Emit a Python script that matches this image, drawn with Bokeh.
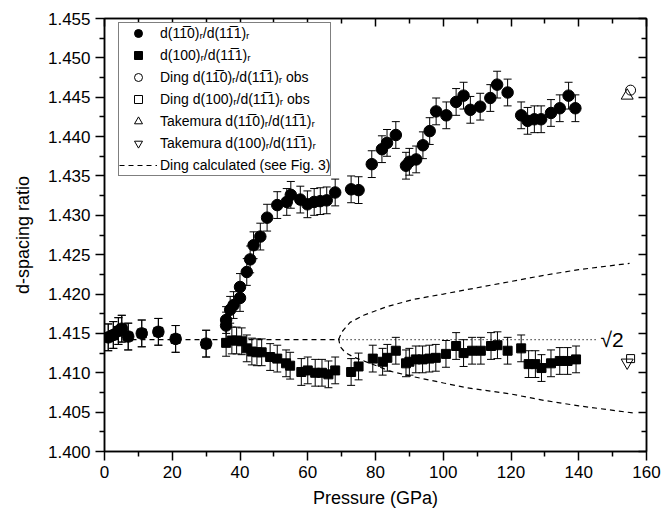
from bokeh.plotting import figure
from bokeh.models import (ColumnDataSource, Whisker, TeeHead, LinearAxis, FixedTicker,
                          Legend, LegendItem, Label, Range1d, CustomJSTickFormatter)
from bokeh.embed import file_html
from bokeh.resources import INLINE

FONT = "Liberation Sans"
SQRT2 = 1.41421
ERR = 0.0017

# ---------------- data ----------------
# low-pressure points (both ratios coincide)
low_p = [1.1, 2.6, 4.1, 5.1, 7.0, 11.0, 15.9, 21.0, 30.0]
low_v = [1.4145, 1.4148, 1.4153, 1.4156, 1.4146, 1.4150, 1.4152, 1.4143, 1.4137]

# d(1-10)r/d(1-11)r  (filled circles)
circ_p = [35.9, 35.9, 37.1, 38.1, 40.0, 40.0, 42.0, 43.0, 44.0, 46.0, 48.0, 51.0, 53.8, 55.0,
          57.8, 59.9, 61.9, 63.7, 65.6, 68.1, 72.8, 75.0, 78.9, 81.9, 83.4, 86.0, 89.0, 90.0,
          92.0, 94.0, 96.0, 97.9, 100.9, 103.8, 106.0, 108.0, 110.9, 113.9, 115.9, 119.0,
          123.0, 124.9, 126.9, 128.9, 131.8, 134.4, 137.0, 139.0]
circ_v = [1.4160, 1.4167, 1.4180, 1.4186, 1.4195, 1.4209, 1.4228, 1.4244, 1.4262, 1.4273,
          1.4297, 1.4313, 1.4317, 1.4326, 1.4320, 1.4314, 1.4317, 1.4318, 1.4319, 1.4329,
          1.4333, 1.4332, 1.4365, 1.4384, 1.4392, 1.4402, 1.4363, 1.4368, 1.4371, 1.4389,
          1.4407, 1.4432, 1.4427, 1.4444, 1.4452, 1.4434, 1.4438, 1.4449, 1.4466, 1.4456,
          1.4427, 1.4420, 1.4422, 1.4422, 1.4430, 1.4436, 1.4452, 1.4436]

# d(100)r/d(1-11)r  (filled squares)
sq_p = [35.9, 37.6, 39.0, 40.5, 42.0, 43.5, 45.0, 46.4, 48.9, 51.0, 53.6, 54.8, 58.1, 60.0,
        62.2, 64.2, 66.1, 68.1, 72.8, 75.0, 79.2, 82.1, 83.5, 86.0, 89.0, 90.0, 91.9, 93.9,
        95.9, 97.8, 100.8, 103.8, 106.0, 108.5, 111.1, 114.1, 116.0, 119.0, 123.0, 125.2,
        127.2, 129.0, 131.8, 134.4, 136.7, 139.2]
sq_v = [1.4138, 1.4141, 1.4141, 1.4140, 1.4131, 1.4127, 1.4126, 1.4126, 1.4120, 1.4118,
        1.4112, 1.4109, 1.4101, 1.4103, 1.4100, 1.4100, 1.4098, 1.4103, 1.4101, 1.4108,
        1.4118, 1.4114, 1.4119, 1.4128, 1.4112, 1.4114, 1.4117, 1.4117, 1.4118, 1.4119,
        1.4124, 1.4134, 1.4125, 1.4128, 1.4128, 1.4134, 1.4135, 1.4128, 1.4131, 1.4111,
        1.4111, 1.4106, 1.4112, 1.4115, 1.4115, 1.4117]

# Ding observed / Takemura (open symbols)
ding_c_p, ding_c_v = [155.3], [1.4459]
ding_s_p, ding_s_v = [155.3], [1.4118]
tak_up_p, tak_up_v = [154.3], [1.4452]
tak_dn_p, tak_dn_v = [154.3], [1.4113]

# Ding calculated curves
flat_p = [0.0, 69.1]
flat_v = [SQRT2, SQRT2]
up_p = [69.1, 70.1, 72.5, 76.5, 83.4, 91.0, 100.0, 110.0, 120.0, 130.0, 140.0, 155.0]
up_v = [1.41435, 1.4152, 1.4164, 1.4173, 1.4184, 1.4193, 1.4200, 1.4208, 1.4216, 1.4224,
        1.4231, 1.4239]
lo_p = [69.1, 69.6, 71.0, 73.5, 81.4, 84.3, 91.2, 100.1, 107.0, 120.0, 129.6, 140.0, 156.0]
lo_v = [1.41435, 1.4133, 1.4126, 1.4120, 1.4107, 1.4102, 1.4095, 1.4087, 1.4081, 1.4073,
        1.4065, 1.4058, 1.4049]
dot_p = [69.1, 145.4]
dot_v = [SQRT2, SQRT2]

x_ticks = [0, 20, 40, 60, 80, 100, 120, 140, 160]
x_minor = [10, 30, 50, 70, 90, 110, 130, 150]
x_labels = ["0", "20", "40", "60", "80", "100", "120", "140", "160"]
y_ticks = [1.400, 1.405, 1.410, 1.415, 1.420, 1.425, 1.430, 1.435, 1.440, 1.445, 1.450, 1.455]
y_minor = [1.4025, 1.4075, 1.4125, 1.4175, 1.4225, 1.4275, 1.4325, 1.4375, 1.4425, 1.4475, 1.4525]
y_labels = ["1.400", "1.405", "1.410", "1.415", "1.420", "1.425", "1.430", "1.435", "1.440",
            "1.445", "1.450", "1.455"]

# --------------- figure ---------------
p = figure(width=663, height=511, x_range=Range1d(0, 160), y_range=Range1d(1.400, 1.455),
           output_backend="svg", toolbar_location=None,
           min_border_left=104, min_border_right=17, min_border_top=18, min_border_bottom=60)
p.xgrid.visible = False
p.ygrid.visible = False
p.outline_line_color = "black"
p.outline_line_width = 1.5
p.background_fill_color = "white"

def style_axis(ax, outward=True, labels=True):
    ax.axis_line_width = 1.5
    ax.axis_line_color = "black"
    ax.major_tick_line_width = 1.5
    ax.minor_tick_line_width = 1.5
    ax.major_tick_line_color = "black"
    ax.minor_tick_line_color = "black"
    if outward:
        ax.major_tick_out, ax.major_tick_in = 9, 0
        ax.minor_tick_out, ax.minor_tick_in = 5, 0
    else:
        ax.major_tick_out, ax.major_tick_in = 0, 8
        ax.minor_tick_out, ax.minor_tick_in = 0, 5
    ax.major_label_text_font = FONT
    ax.major_label_text_color = "black"
    if labels:
        ax.major_label_text_font_size = "17px"
        ax.major_label_standoff = 5
    else:
        ax.formatter = CustomJSTickFormatter(code="return ''")
        ax.major_label_text_font_size = "8px"
        ax.major_label_standoff = 0
    ax.axis_label_text_font = FONT
    ax.axis_label_text_font_style = "normal"
    ax.axis_label_text_font_size = "18px"
    ax.axis_label_text_color = "black"

p.xaxis.ticker = FixedTicker(ticks=x_ticks, minor_ticks=x_minor)
p.yaxis.ticker = FixedTicker(ticks=y_ticks, minor_ticks=y_minor)
p.xaxis.major_label_overrides = {t: l for t, l in zip(x_ticks, x_labels)}
p.yaxis.major_label_overrides = {t: l for t, l in zip(y_ticks, y_labels)}
p.xaxis.axis_label = "Pressure (GPa)"
p.yaxis.axis_label = "d-spacing ratio"
style_axis(p.xaxis[0])
style_axis(p.yaxis[0])
p.xaxis.axis_label_standoff = 7
p.yaxis.axis_label_standoff = 12

top = LinearAxis(ticker=FixedTicker(ticks=x_ticks, minor_ticks=x_minor))
right = LinearAxis(ticker=FixedTicker(ticks=y_ticks, minor_ticks=y_minor))
style_axis(top, outward=False, labels=False)
style_axis(right, outward=False, labels=False)
p.add_layout(top, "above")
p.add_layout(right, "right")

# Ding calculated lines
r_calc = p.line(flat_p + up_p[1:], flat_v + up_v[1:], line_color="black", line_width=1.2,
                line_dash="5 4")
p.line(lo_p, lo_v, line_color="black", line_width=1.2, line_dash="5 4")
p.line(dot_p, dot_v, line_color="black", line_width=1.2, line_dash="1 3")

# error bars + markers
def add_series(px, pv, marker, size):
    src = ColumnDataSource(dict(x=px, y=pv,
                                lo=[v - ERR for v in pv], hi=[v + ERR for v in pv]))
    w = Whisker(source=src, base="x", upper="hi", lower="lo", dimension="height",
                line_color="black", line_width=1,
                upper_head=TeeHead(size=8, line_color="black", line_width=1),
                lower_head=TeeHead(size=8, line_color="black", line_width=1))
    w.level = "underlay"
    p.add_layout(w)
    return p.scatter("x", "y", source=src, marker=marker, size=size,
                     fill_color="black", line_color="black")

r_sq = add_series(low_p + sq_p, low_v + sq_v, "square", 9)
r_circ = add_series(low_p + circ_p, low_v + circ_v, "circle", 11.5)

r_dc = p.scatter(ding_c_p, ding_c_v, marker="circle", size=10, fill_color=None,
                 line_color="black", line_width=1)
r_ds = p.scatter(ding_s_p, ding_s_v, marker="square", size=8, fill_color=None,
                 line_color="black", line_width=1)
r_tu = p.scatter(tak_up_p, tak_up_v, marker="triangle", size=12, fill_color=None,
                 line_color="black", line_width=1)
r_td = p.scatter(tak_dn_p, tak_dn_v, marker="inverted_triangle", size=12, fill_color=None,
                 line_color="black", line_width=1)

p.add_layout(Label(x=146.4, y=SQRT2, text="\u221a2", text_font=FONT, text_font_size="21px",
                   text_color="black", text_baseline="alphabetic", text_align="left"))

OV = "\u0305"
SUB = "\u1d63"
items = [
    LegendItem(label=f"d(11{OV}0){SUB}/d(11{OV}1){SUB}", renderers=[r_circ]),
    LegendItem(label=f"d(100){SUB}/d(11{OV}1){SUB}", renderers=[r_sq]),
    LegendItem(label=f"Ding d(11{OV}0){SUB}/d(11{OV}1){SUB} obs", renderers=[r_dc]),
    LegendItem(label=f"Ding d(100){SUB}/d(11{OV}1){SUB} obs", renderers=[r_ds]),
    LegendItem(label=f"Takemura d(11{OV}0){SUB}/d(11{OV}1){SUB}", renderers=[r_tu]),
    LegendItem(label=f"Takemura d(100){SUB}/d(11{OV}1){SUB}", renderers=[r_td]),
    LegendItem(label="Ding calculated (see Fig. 3)", renderers=[r_calc]),
]
legend = Legend(items=items, location=(14, 275), orientation="vertical",
                label_text_font=FONT, label_text_font_size="14px", label_text_color="black",
                glyph_width=38, glyph_height=20, label_height=20, label_standoff=3,
                spacing=2, padding=0, margin=0,
                border_line_color="black", border_line_width=1,
                background_fill_color="white", background_fill_alpha=1)
p.add_layout(legend)

open("out.html", "w").write(file_html(p, INLINE))
